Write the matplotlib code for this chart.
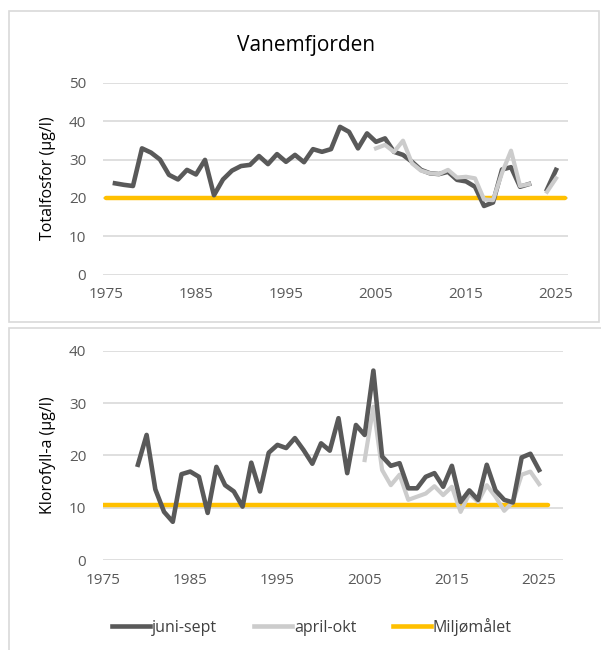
import numpy as np
import matplotlib.pyplot as plt
from matplotlib.patches import Rectangle
from matplotlib.lines import Line2D

# Totalfosfor, juni-sept (1976-2025, gap 2023)
tp_years = list(range(1976, 2026))
tp_juni = [23.8, 23.4, 23.1, 32.9, 31.8, 30.0, 26.0, 24.8, 27.3, 26.1,
           29.9, 20.7, 24.8, 27.1, 28.3, 28.6, 30.9, 28.8, 31.4, 29.4,
           31.2, 29.3, 32.7, 32.0, 32.7, 38.5, 37.2, 32.9, 36.8, 34.6,
           35.5, 32.0, 31.2, 29.4, 27.3, 26.4, 26.2, 26.8, 24.7, 24.3,
           22.9, 17.9, 18.8, 27.4, 28.0, 22.9, 23.6, None, 22.2, 27.3]
# Totalfosfor, april-okt (2005-2025)
tp_years_ao = list(range(2005, 2026))
tp_april = [32.9, 33.8, 32.0, 34.9, 29.0, 27.1, 26.4, 26.2, 27.3, 25.3,
            25.5, 25.1, 19.6, 19.4, 26.5, 32.3, 23.1, 23.6, None, 21.6, 25.1]

# Klorofyll-a, juni-sept (1979-2025)
chl_years = list(range(1979, 2026))
chl_juni = [18.2, 23.9, 13.5, 9.2, 7.3, 16.4, 16.9, 15.9, 9.0, 17.8,
            14.3, 13.1, 10.2, 18.6, 13.1, 20.5, 22.0, 21.4, 23.3, 21.0,
            18.4, 22.3, 20.9, 27.1, 16.6, 25.8, 23.9, 36.2, 19.8, 18.0,
            18.5, 13.7, 13.7, 15.9, 16.6, 14.0, 18.0, 11.1, 13.3, 11.5,
            18.2, 13.3, 11.5, 11.0, 19.6, 20.3, 17.2]
# Klorofyll-a, april-okt (2005-2025)
chl_years_ao = list(range(2005, 2026))
chl_april = [19.1, 29.3, 17.2, 14.3, 16.3, 11.5, 12.1, 12.7, 14.1, 12.4,
             14.0, 9.2, 12.7, 11.1, 14.3, 12.1, 9.4, 11.1, 16.3, 16.9, 14.5]

goal_years = [1975, 2026]
tp_goal = 20
chl_goal = 10.5

DARK = '#595959'
LIGHT = '#cccccc'
YELLOW = '#ffc000'
GRID = '#d9d9d9'
TXT = '#595959'

plt.rcParams['font.family'] = ['Open Sans', 'DejaVu Sans']

W, H = 601, 650
fig = plt.figure(figsize=(W / 100, H / 100), dpi=100)


def px_axes(left, top, right, bottom):
    return fig.add_axes([left / W, 1 - bottom / H, (right - left) / W, (bottom - top) / H])


def to_arr(v):
    return np.array([np.nan if a is None else a for a in v], dtype=float)


def style(ax, ymax, xlim):
    ax.set_xlim(*xlim)
    ax.set_ylim(0, ymax)
    ax.set_yticks(np.arange(0, ymax + 1, 10))
    ax.set_xticks(np.arange(1975, 2026, 10))
    ax.grid(axis='y', color=GRID, linewidth=1.2)
    ax.set_axisbelow(True)
    for s in ax.spines.values():
        s.set_visible(False)
    ax.tick_params(length=0, labelsize=11, labelcolor=TXT)
    ax.tick_params(axis='y', pad=12)
    ax.tick_params(axis='x', pad=9)


# chart frames
fig.patches.append(Rectangle((9 / W, 1 - 322 / H), 590 / W, 311 / H, transform=fig.transFigure,
                             fill=False, edgecolor='#d9d9d9', linewidth=1.2))
fig.patches.append(Rectangle((9 / W, -0.01), 600 / W, 1 - 328 / H + 0.01, transform=fig.transFigure,
                             fill=False, edgecolor='#d9d9d9', linewidth=1.2))

ax1 = px_axes(103, 82.7, 568, 274.7)
style(ax1, 50, (1974.67, 2026.33))
ax1.plot(goal_years, [tp_goal] * 2, color=YELLOW, lw=3.2, solid_capstyle='round')
ax1.plot(tp_years, to_arr(tp_juni), color=DARK, lw=3.3)
ax1.plot(tp_years_ao, to_arr(tp_april), color=LIGHT, lw=3.0)
fig.text(306 / W, 1 - 45 / H, 'Vanemfjorden', ha='center', va='center', fontsize=15, color='black')
fig.text(48 / W, 1 - 178 / H, 'Totalfosfor (µg/l)', rotation=90, ha='center', va='center',
         fontsize=11.5, color='black')

ax2 = px_axes(103, 350.7, 563, 560)
style(ax2, 40, (1975.17, 2027.74))
ax2.plot(goal_years, [chl_goal] * 2, color=YELLOW, lw=3.2, solid_capstyle='round')
ax2.plot(chl_years_ao, to_arr(chl_april), color=LIGHT, lw=3.0)
ax2.plot(chl_years, to_arr(chl_juni), color=DARK, lw=3.3)
fig.text(48 / W, 1 - 455 / H, 'Klorofyll-a (µg/l)', rotation=90, ha='center', va='center',
         fontsize=11.5, color='black')

handles = [Line2D([], [], color=DARK, lw=3.3),
           Line2D([], [], color=LIGHT, lw=3.3),
           Line2D([], [], color=YELLOW, lw=3.3)]
fig.legend(handles, ['juni-sept', 'april-okt', 'Miljømålet'], loc='center',
           bbox_to_anchor=(312 / W, 1 - 627 / H), ncol=3, frameon=False,
           fontsize=11.5, handlelength=2.4, handletextpad=0.1, columnspacing=2.3,
           labelcolor='#404040')

fig.savefig('out.png', dpi=100)
